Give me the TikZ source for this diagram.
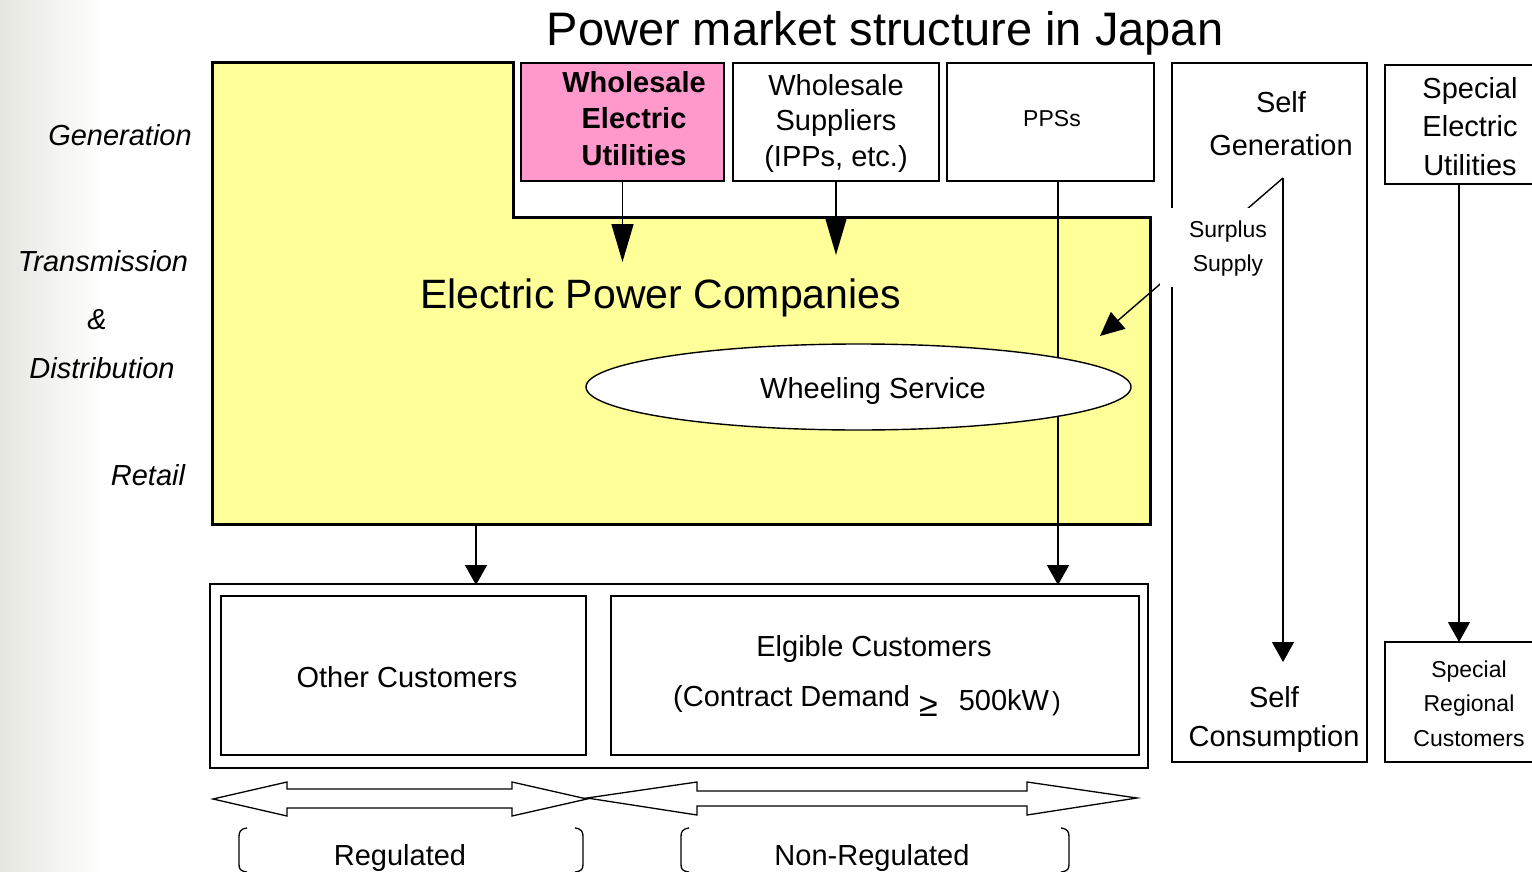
\documentclass[tikz,border=0pt]{standalone}
\usepackage{fontspec}
\setmainfont{Liberation Sans}
\usetikzlibrary{arrows.meta,shapes.geometric}
\definecolor{epcyellow}{RGB}{255,255,153}
\definecolor{wpink}{RGB}{255,153,204}
\definecolor{bggray}{RGB}{230,230,224}
\tikzset{
  box/.style={draw=black, line width=1.4pt, rectangle, inner sep=0pt, outer sep=0pt},
  thinline/.style={draw=black, line width=1.4pt},
  epcline/.style={draw=black, line width=3pt, fill=epcyellow, line join=miter},
  conn/.style={draw=black, line width=1.4pt, -{Triangle[length=20pt,width=22pt]}},
  connlong/.style={draw=black, line width=1.4pt, -{Triangle[length=38pt,width=22pt]}},
  txt/.style={inner sep=0pt, outer sep=0pt, align=center, font=\fontsize{29}{35}\selectfont},
  smalltxt/.style={inner sep=0pt, outer sep=0pt, align=center, font=\fontsize{23}{34}\selectfont},
  sidetxt/.style={inner sep=0pt, outer sep=0pt, font=\itshape\fontsize{29}{29}\selectfont},
  blockarrow/.style={draw=black, line width=1.3pt, fill=white, line join=miter},
  bracket/.style={draw=black, line width=1.3pt}
}
\begin{document}
\begin{tikzpicture}[x=1pt,y=-1pt]
\useasboundingbox (0,0) rectangle (1532,872);
\shade[left color=bggray, right color=white] (0,0) rectangle (105,872);

% Electric power companies region
\draw[epcline] (212,63) -- (513,63) -- (513,217) -- (1150,217) -- (1150,524) -- (212,524) -- cycle;

% top boxes
\node[box, fill=wpink, minimum width=203, minimum height=118] (wseu) at (622.5,122) {};
\node[box, fill=white, minimum width=206, minimum height=118] (wsup) at (836,122) {};
\node[box, fill=white, minimum width=207, minimum height=118] (pps) at (1050.5,122) {};
\node[box, fill=white, minimum width=195, minimum height=699] (selfgen) at (1269.5,412.5) {};
\node[box, fill=white, minimum width=155, minimum height=119] (seu) at (1462.5,124.5) {};
\node[box, fill=white, minimum width=155, minimum height=120] (src) at (1462.5,702) {};

% bottom customers
\node[box, minimum width=938, minimum height=184] (cust) at (679,676) {};
\node[box, minimum width=365, minimum height=159] (other) at (403.5,675.5) {};
\node[box, minimum width=528, minimum height=159] (elig) at (875,675.5) {};

% PPS line (behind wheeling ellipse)
\coordinate (ppsTip) at (1058,585);
\draw[conn] (pps.south -| ppsTip) -- (ppsTip);

% wheeling service
\node[ellipse, draw=black, line width=1.4pt, fill=white, minimum width=545, minimum height=86, inner sep=0pt] (wheel) at (858.5,387) {};
\node[txt, anchor=base] (wheelT) at (873,398.5) {Wheeling Service};

% arrows into EPC
\coordinate (wseuTip) at (622.5,262);
\coordinate (wsupTip) at (836,255);
\draw[connlong] (wseu.south) -- (wseuTip);
\draw[connlong] (wsup.south) -- (wsupTip);

% EPC to other customers
\coordinate (epcOut) at (476,524);
\coordinate (otherTip) at (476,585);
\draw[conn] (epcOut) -- (otherTip);

% self generation
\coordinate (sgTop) at (1283,178);
\coordinate (sgTip) at (1283,662);
\coordinate (surplusTip) at (1100,336);
\draw[conn] (sgTop) -- (sgTip);
\draw[draw=black, line width=1.4pt, -{Triangle[length=24pt,width=22pt]}] (sgTop) -- (surplusTip);
\fill[white] (1160,208) rectangle (1279,287);
\node[smalltxt, font=\fontsize{23}{34}\selectfont] (surplus) at (1228,248.4) {Surplus\\Supply};

% special electric utilities
\coordinate (seuTip) at (1459,642);
\draw[conn] (seu.south -| seuTip) -- (seuTip);

% texts
\node[inner sep=0pt, anchor=base, font=\fontsize{47}{47}\selectfont] (title) at (885,45.5) {Power market structure in Japan};
\node[sidetxt] (lgen) at (120,135) {Generation};
\node[sidetxt] (ltrans) at (103,261) {Transmission};
\node[sidetxt] (land) at (97,320) {\&};
\node[sidetxt] (ldist) at (102,368) {Distribution};
\node[sidetxt] (lret) at (148,475) {Retail};

\node[txt, font=\bfseries\fontsize{29}{36.5}\selectfont] (wseuT) at (634,118.5) {Wholesale\\Electric\\Utilities};
\node[txt, font=\fontsize{29}{35.5}\selectfont] (wsupT) at (836,123) {Wholesale\\Suppliers\\(IPPs, etc.)};
\node[smalltxt, anchor=base] (ppsT) at (1052,127) {PPSs};
\node[txt, font=\fontsize{29}{43}\selectfont] (selfgenT) at (1281,123.5) {Self\\Generation};
\node[txt, font=\fontsize{29}{38.5}\selectfont] (seuT) at (1470,126.5) {Special\\Electric\\Utilities};
\node[txt, font=\fontsize{29}{39}\selectfont] (selfconT) at (1274,719.5) {Self\\Consumption};
\node[smalltxt, font=\fontsize{23}{34.5}\selectfont] (srcT) at (1469,703.5) {Special\\Regional\\Customers};

\node[inner sep=0pt, anchor=base, font=\fontsize{41}{41}\selectfont] (epcT) at (660.5,308.5) {Electric Power Companies};
\node[txt, anchor=base] (otherT) at (407,687.5) {Other Customers};
\node[txt, anchor=base] (eligT) at (874,656) {Elgible Customers};
\node[inner sep=0pt, anchor=base west, font=\fontsize{29}{29}\selectfont] (eligT2) at (673,706) {(Contract Demand\hspace{9pt}\raisebox{-10pt}{\fontsize{34}{34}\selectfont ≥}\hspace{21pt}\raisebox{-4pt}{500kW\hspace{3pt}{\fontsize{26}{26}\selectfont )}}};

% regulated / non-regulated block arrows
\draw[blockarrow] (213,799) -- (287,782) -- (287,789) -- (512,789) -- (512,782) -- (587,799) -- (512,816) -- (512,808) -- (287,808) -- (287,816) -- cycle;
\draw[blockarrow] (587,798) -- (697,782) -- (697,791) -- (1027,791) -- (1027,782) -- (1137,798) -- (1027,815) -- (1027,806) -- (697,806) -- (697,815) -- cycle;

% brackets
\draw[bracket] (247,828) .. controls (240,829) and (239,832) .. (239,837) -- (239,864) .. controls (239,869) and (240,871) .. (247,872);
\draw[bracket] (575,828) .. controls (582,829) and (583,832) .. (583,837) -- (583,864) .. controls (583,869) and (582,871) .. (575,872);
\draw[bracket] (689,828) .. controls (682,829) and (681,832) .. (681,837) -- (681,864) .. controls (681,869) and (682,871) .. (689,872);
\draw[bracket] (1061,828) .. controls (1068,829) and (1069,832) .. (1069,837) -- (1069,864) .. controls (1069,869) and (1068,871) .. (1061,872);

\node[txt, anchor=base] (regT) at (400,865.5) {Regulated};
\node[txt, anchor=base] (nonregT) at (872,865.5) {Non-Regulated};
\end{tikzpicture}
\end{document}
